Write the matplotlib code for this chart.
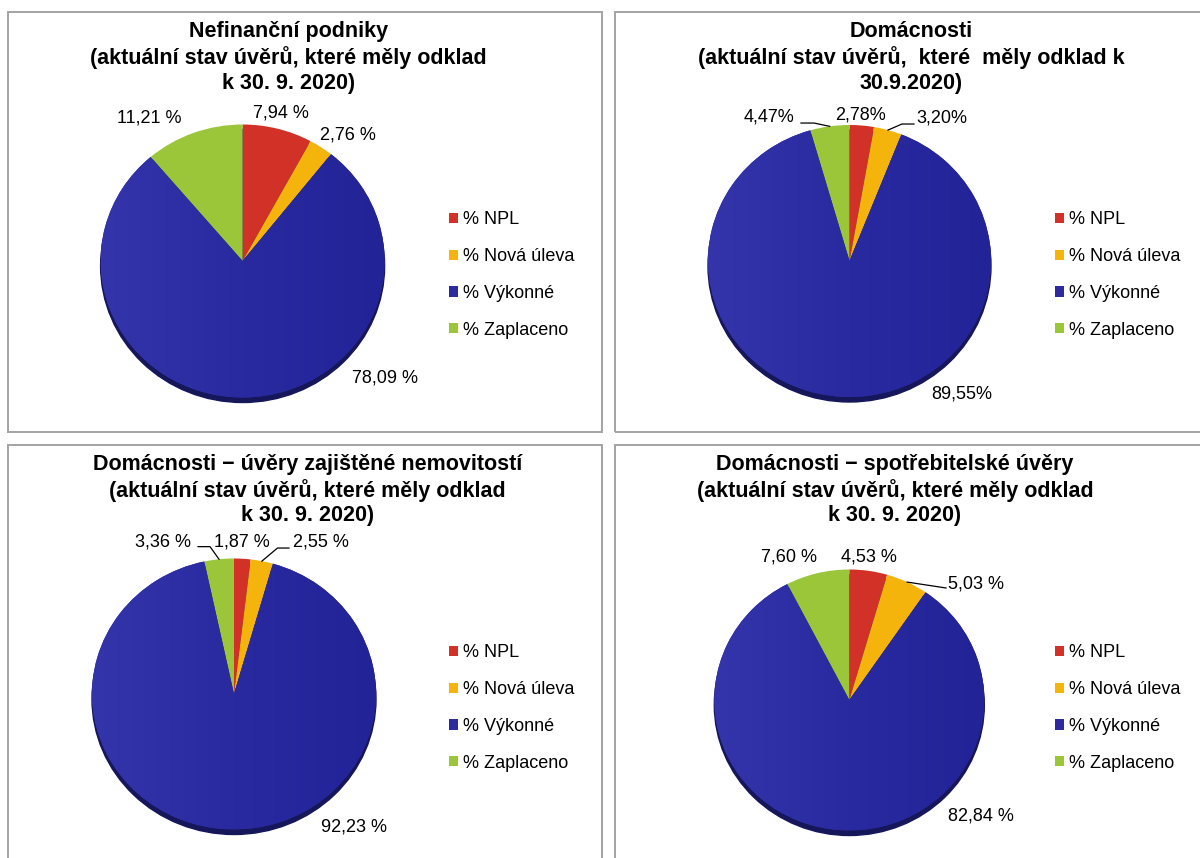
import numpy as np
import matplotlib
matplotlib.use("Agg")
import matplotlib.pyplot as plt
from matplotlib.patches import Rectangle, Ellipse
from matplotlib.colors import LinearSegmentedColormap

plt.rcParams['font.family'] = ['Liberation Sans', 'DejaVu Sans']

W, H = 1200, 858

# ---------------- data ----------------
categories = ['% NPL', '% Nová úleva', '% Výkonné', '% Zaplaceno']
colors = ['#D13127', '#F4B40C', '#2B2B9F', '#9BC63A']

titles = [
    'Nefinanční podniky\n(aktuální stav úvěrů, které měly odklad\nk 30. 9. 2020)',
    'Domácnosti\n(aktuální stav úvěrů,  které  měly odklad k\n30.9.2020)',
    'Domácnosti \u2212 úvěry zajištěné nemovitostí\n(aktuální stav úvěrů, které měly odklad\nk 30. 9. 2020)',
    'Domácnosti \u2212 spotřebitelské úvěry\n(aktuální stav úvěrů, které měly odklad\nk 30. 9. 2020)',
]
nefin_values = [7.94, 2.76, 78.09, 11.21]
dom_values = [2.78, 3.20, 89.55, 4.47]
nemov_values = [1.87, 2.55, 92.23, 3.36]
spotr_values = [4.53, 5.03, 82.84, 7.60]
pct_suffix = [' %', '%', ' %', ' %']

# ---------------- layout (pixels) ----------------
layouts = [
    dict(box=(8, 12, 602, 432), center=(242.6, 261), r=(142, 136.5), title=(288.5, 57.5),
         legend=(448.5, 275),
         offsets=[(3.4, 16), (26.5, 12.2), (140, 19.8), (-44.6, 14.9)], leaders={}),
    dict(box=(615, 12, 1215, 432), center=(849.5, 261), r=(141.5, 136), title=(911, 57.5),
         legend=(1055, 275),
         offsets=[(-1.8, 10.5), (54, 12), (119, 2.8), (-60.7, 9.6)],
         leaders={1: [(0, 0), (14, 6.1), (26, 6.1)], 3: [(0, 0), (-15.7, 3.3), (-28.7, 3.3)]}),
    dict(box=(8, 445, 602, 875), center=(234, 694), r=(142, 135.5), title=(307.5, 490),
         legend=(448.5, 708),
         offsets=[(-0.3, 16.7), (58.6, 19.1), (124.7, 2.4), (-56, 17.3)],
         leaders={1: [(0, 0), (15.6, 13.1), (27.1, 13.1)], 3: [(0, 0), (-9, 12.6), (-21, 12.6)]}),
    dict(box=(615, 445, 1215, 875), center=(849.3, 700), r=(135, 130.5), title=(895, 490),
         legend=(1055, 708),
         offsets=[(0.6, 13.8), (68.9, -1.9), (140, 14.3), (-27.9, 16.2)],
         leaders={1: [(0, 0), (38.9, -5.9)]}),
]

fig = plt.figure(figsize=(W / 100, H / 100), dpi=100)
fig.patch.set_facecolor('white')

blue_cmap = LinearSegmentedColormap.from_list('blue', ['#3535AB', '#2A2AA0', '#232398'])


def draw_panel(values, lay, title, suffix):
    x0, y0, x1, y1 = lay['box']
    fig.add_artist(Rectangle((x0 / W, 1 - y1 / H), (x1 - x0) / W, (y1 - y0) / H,
                             transform=fig.transFigure, fill=False, ec='#A3A3A3', lw=1.4))
    tx, ty = lay['title']
    fig.text(tx / W, 1 - ty / H, title, ha='center', va='center', ma='center',
             fontsize=15.5, fontweight='bold', linespacing=1.22, color='black')

    cx, cy = lay['center']
    rx, ry = lay['r']
    L = 1.1
    ax = fig.add_axes([(cx - L * rx) / W, 1 - (cy + L * ry) / H, 2 * L * rx / W, 2 * L * ry / H])
    wedges, _ = ax.pie(values, colors=colors, startangle=90, counterclock=False,
                       wedgeprops=dict(linewidth=0))
    grad = np.linspace(0, 1, 256).reshape(1, -1)
    im = ax.imshow(grad, extent=(-1, 1, -1, 1), cmap=blue_cmap, aspect='auto', zorder=1.5)
    im.set_clip_path(wedges[2])
    ax.add_patch(Ellipse((0, -5.0 / ry), 2, 2, color='#16165A', zorder=0.5))
    ax.set_aspect('auto')
    ax.set_xlim(-L, L)
    ax.set_ylim(-L, L)
    ax.axis('off')

    total = sum(values)
    cum = np.cumsum([0] + list(values[:-1]))
    for i, v in enumerate(values):
        theta = np.deg2rad(90 - 360 * (cum[i] + v / 2) / total)
        xy = (np.cos(theta), np.sin(theta))
        txt = f"{v:.2f}".replace('.', ',') + suffix
        ax.annotate(txt, xy=xy, xytext=lay['offsets'][i], textcoords='offset pixels',
                    ha='center', va='center', fontsize=13, annotation_clip=False)
        if i in lay['leaders']:
            base = ax.transData.transform(xy)
            disp = np.array([(base[0] + dx, base[1] + dy) for dx, dy in lay['leaders'][i]])
            data = ax.transData.inverted().transform(disp)
            ax.plot(data[:, 0], data[:, 1], color='black', lw=0.9, clip_on=False, zorder=3)

    lx, ly = lay['legend']
    ax.legend(wedges, categories, loc='center left', bbox_to_anchor=(lx / W, 1 - ly / H),
              bbox_transform=fig.transFigure, frameon=False, fontsize=13,
              handlelength=0.5, handleheight=0.5, handletextpad=0.28, labelspacing=1.09,
              borderpad=0, borderaxespad=0)


for vals, lay, title, suf in zip([nefin_values, dom_values, nemov_values, spotr_values],
                                 layouts, titles, pct_suffix):
    draw_panel(vals, lay, title, suf)

fig.savefig('out.png', dpi=100, facecolor='white')
